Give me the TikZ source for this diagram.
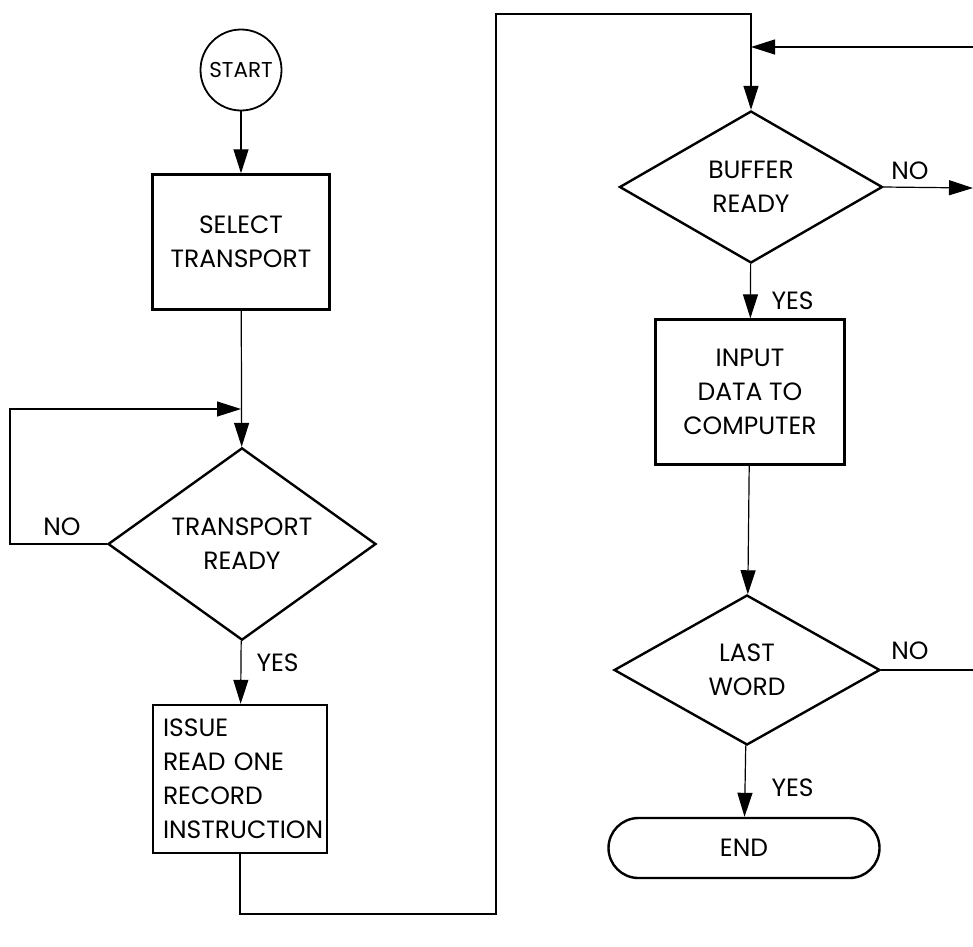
\documentclass[tikz,border=0pt]{standalone}
\usepackage{fontspec}
\setmainfont{Poppins}
\usetikzlibrary{shapes.geometric,arrows.meta}
\begin{document}
\begin{tikzpicture}
[x=1pt,y=-1pt, font=\fontsize{25}{34}\selectfont,
  box/.style={draw,line width=2.4pt,align=center,inner sep=0pt},
  test/.style={draw,diamond,line width=2.4pt,align=center,inner sep=0pt,minimum width=268pt,minimum height=152pt},
  flow/.style={line width=1.2pt,-{Triangle[length=24pt,width=15pt]}},
  plain/.style={line width=1.2pt}]
\useasboundingbox (0,0) rectangle (973,946);
  % left column
  \node[draw,circle,line width=1.8pt,minimum size=81pt,inner sep=0pt,font=\fontsize{21.5}{26}\selectfont] (start) at (241,70) {START};
  \node[box,minimum width=177pt,minimum height=135pt] (select) at (241,242) {SELECT\\TRANSPORT};
  \node[test] (tready) at (242,544) {TRANSPORT\\READY};
  \node[box,minimum width=174pt,minimum height=148pt,align=left,text width=154pt] (issue) at (240,779)
     {ISSUE\\READ ONE\\RECORD\\INSTRUCTION};
  \coordinate (tjoin) at (241,409);
  \node (tno) at (62,527) {NO};
  \node[anchor=west] (tyes) at (253,663) {YES};
  % right column
  \node[test,minimum width=263pt] (buffer) at (751,187) {BUFFER\\READY};
  \node[box,minimum width=189pt,minimum height=145pt] (input) at (750,392) {INPUT\\DATA TO\\COMPUTER};
  \node[test,minimum width=266pt,minimum height=150pt] (last) at (747,670) {LAST\\WORD};
  \node[draw,line width=2.4pt,rounded corners=30pt,minimum width=271pt,minimum height=60pt] (end) at (744,848) {END};
  \coordinate (bjoin) at (751,47);
  \coordinate (bin) at (973,47);
  \coordinate (bout) at (973,188);
  \coordinate (lout) at (973,670);
  \node (bno) at (910,171) {NO};
  \node (lno) at (910,651) {NO};
  \node[anchor=west] (byes) at (768,301) {YES};
  \node[anchor=west] (lyes) at (768,788) {YES};
  % connectors
  \draw[flow] (start) -- (select);
  \draw[flow] (select) -- (tready);
  \draw[flow] (tready.west) -| (10,409) -- (tjoin);
  \draw[flow] (tready) -- (issue);
  \draw[flow] (issue.south) |- (496,914) |- (751,14) -- (buffer.north);
  \draw[flow] (bin) -- (bjoin);
  \draw[flow] (buffer.east) -- (bout);
  \draw[flow] (buffer) -- (input);
  \draw[flow] (input) -- (last);
  \draw[plain] (last.east) -- (lout);
  \draw[flow] (last) -- (end);
\end{tikzpicture}
\end{document}
